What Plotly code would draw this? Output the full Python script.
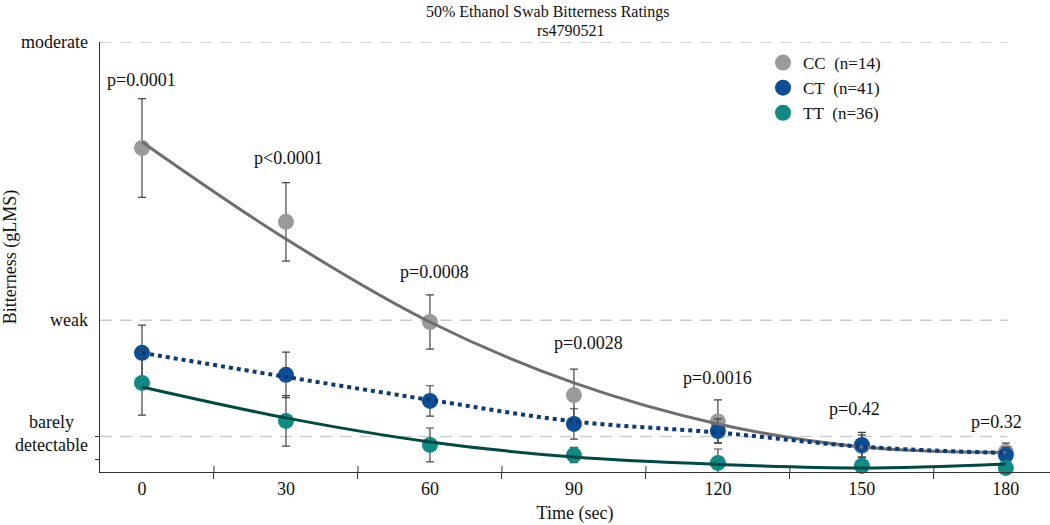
import plotly.graph_objects as go

# ---------------- data ----------------
times = [0, 30, 60, 90, 120, 150, 180]

cc_mean = [12.81, 9.89, 5.93, 3.04, 2.00, 1.02, 0.79]
cc_err = [1.95, 1.55, 1.07, 1.03, 0.85, 0.45, 0.35]
cc_fit = [13.05, 9.21, 5.93, 3.52, 1.90, 0.99, 0.77]

ct_mean = [4.71, 3.84, 2.81, 1.90, 1.62, 1.07, 0.67]
ct_err = [1.10, 0.90, 0.60, 0.60, 0.48, 0.50, 0.30]
ct_fit = [4.71, 3.76, 2.85, 2.00, 1.56, 1.00, 0.75]

tt_mean = [3.52, 2.02, 1.07, 0.67, 0.36, 0.24, 0.16]
tt_err = [1.27, 1.00, 0.67, 0.30, 0.55, 0.36, 0.20]
tt_fit = [3.36, 2.14, 1.19, 0.59, 0.30, 0.16, 0.32]

series_names = ["CC\u00a0\u00a0(n=14)", "CT\u00a0\u00a0(n=41)", "TT\u00a0\u00a0(n=36)"]

p_labels = ["p=0.0001", "p<0.0001", "p=0.0008", "p=0.0028", "p=0.0016", "p=0.42", "p=0.32"]
p_label_y = [15.5, 12.4, 7.9, 5.1, 3.7, 2.5, 1.97]
p_label_x = [0, 30.5, 61, 93, 120, 148.5, 178]

y_levels = [17, 6, 1.4]
y_level_labels = ["moderate", "weak", "barely<br>detectable"]
x_tick_vals = [0, 30, 60, 90, 120, 150, 180]
x_minor_vals = [15, 45, 75, 105, 135, 165]

# ---------------- styles ----------------
FONT = "Liberation Serif"
marker_colors = ["#9a9a9a", "#0c4f96", "#118a84"]
line_colors = ["#6e6e6e", "#0a3a78", "#004a45"]
err_color = "#444444"

means = [cc_mean, ct_mean, tt_mean]
errs = [cc_err, ct_err, tt_err]
fits = [cc_fit, ct_fit, tt_fit]

fig = go.Figure()

# markers with error bars
for m, e, c in zip(means, errs, marker_colors):
    fig.add_trace(go.Scatter(
        x=times, y=m, mode="markers",
        marker=dict(size=16, color=c),
        error_y=dict(type="data", array=e, color=err_color, thickness=1.2, width=4),
        showlegend=False, cliponaxis=False, hoverinfo="skip",
    ))

# fitted curves
dashes = ["solid", "4px,4px", "solid"]
widths = [3, 4, 3]
for f, c, d, w in zip(fits, line_colors, dashes, widths):
    fig.add_trace(go.Scatter(
        x=times, y=f, mode="lines",
        line=dict(color=c, width=w, dash=d, shape="spline", smoothing=1.0),
        showlegend=False, cliponaxis=False, hoverinfo="skip",
    ))

# legend-only traces
for n, c in zip(series_names, marker_colors):
    fig.add_trace(go.Scatter(
        x=[None], y=[None], mode="markers", name=n,
        marker=dict(size=16, color=c), showlegend=True,
    ))

# gridlines (dashed, stop before right edge)
shapes = []
for lv in y_levels:
    shapes.append(dict(type="line", xref="paper", yref="y", x0=0, x1=0.955, y0=lv, y1=lv,
                       line=dict(color="#cccccc", width=1.5, dash="12px,8px"), layer="below"))
# inner half of crossing x ticks
for mv in x_minor_vals:
    shapes.append(dict(type="line", xref="x", yref="paper", x0=mv, x1=mv, y0=0, y1=0.014,
                       line=dict(color="#333333", width=1)))

annotations = []
for t, px, py in zip(p_labels, p_label_x, p_label_y):
    annotations.append(dict(x=px, y=py, xref="x", yref="y", text=t, showarrow=False,
                            yanchor="middle",
                            font=dict(family=FONT, size=18, color="#111111")))
for lv, lab in zip(y_levels, y_level_labels):
    annotations.append(dict(x=0, y=lv, xref="paper", yref="y", text=lab, showarrow=False,
                            xanchor="right", xshift=-10, yanchor="middle", align="center",
                            yshift=3 if "<br>" in lab else 0,
                            font=dict(family=FONT, size=18, color="#111111")))
annotations.append(dict(xref="paper", yref="paper", x=(548 - 100) / 950, y=1, yshift=30,
                        yanchor="middle",
                        text="50% Ethanol Swab Bitterness Ratings", showarrow=False,
                        font=dict(family=FONT, size=16, color="#111111")))
annotations.append(dict(xref="paper", yref="paper", x=(571 - 100) / 950, y=1, yshift=12,
                        yanchor="middle",
                        text="rs4790521", showarrow=False,
                        font=dict(family=FONT, size=16, color="#111111")))

fig.update_layout(
    width=1050, height=525,
    margin=dict(l=100, r=0, t=42, b=53),
    plot_bgcolor="white", paper_bgcolor="white",
    font=dict(family=FONT, size=17, color="#111111"),
    shapes=shapes, annotations=annotations,
    legend=dict(x=(763 - 100) / 950, y=1 - (45 - 42) / 430, xanchor="left", yanchor="top",
                font=dict(family=FONT, size=17, color="#111111"),
                bgcolor="rgba(0,0,0,0)", tracegroupgap=0, itemwidth=30),
    xaxis=dict(range=[-8.75, 189.2], tickvals=x_tick_vals, ticks="", showgrid=False,
               zeroline=False, showline=True, linecolor="#333333", linewidth=1,
               tickfont=dict(family=FONT, size=18),
               minor=dict(tickvals=x_minor_vals, ticks="outside", ticklen=6,
                          tickcolor="#333333", tickwidth=1, showgrid=False),
               title=dict(text="Time (sec)", standoff=8, font=dict(family=FONT, size=18))),
    yaxis=dict(range=[0, 17], tickvals=[], showticklabels=False, ticks="", showgrid=False,
               zeroline=False, showline=True, linecolor="#333333", linewidth=1,
               minor=dict(tickvals=[1.4, 0.5], ticks="outside", ticklen=4,
                          tickcolor="#333333", tickwidth=1, showgrid=False),
               title=dict(text="Bitterness (gLMS)", standoff=80, font=dict(family=FONT, size=18))),
)

fig.write_html("out.html", config={"displayModeBar": False},
               post_script="document.body.style.margin='0';")
